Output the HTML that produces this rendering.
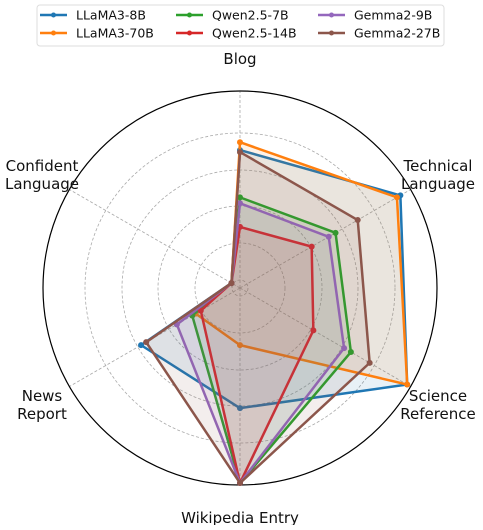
<!DOCTYPE html>
<html><head><meta charset="utf-8"><style>
body{margin:0;background:#fff}
svg text{font-family:"DejaVu Sans","Liberation Sans",sans-serif;fill:#111}
</style></head><body>
<svg id="chart" width="483" height="525" xmlns="http://www.w3.org/2000/svg">
<g id="grid"></g><g id="series"></g><g id="labels"></g>
<g>
<rect x="37" y="5" width="407" height="41" rx="3" fill="#fff" stroke="#ddd"/>
<g id="legend"></g></g>
</svg>
<script>
const categories=["Blog","Technical Language","Science Reference","Wikipedia Entry","News Report","Confident Language"];
const seriesNames=["LLaMA3-8B","LLaMA3-70B","Qwen2.5-7B","Qwen2.5-14B","Gemma2-9B","Gemma2-27B"];
const llama8=[0.70,0.94,0.98,0.61,0.58,0.05];
const llama70=[0.74,0.92,0.98,0.29,0.26,0.05];
const qwen7=[0.46,0.56,0.65,0.99,0.28,0.05];
const qwen14=[0.31,0.42,0.43,0.99,0.23,0.05];
const gemma9=[0.43,0.52,0.61,0.99,0.37,0.05];
const gemma27=[0.69,0.69,0.76,0.99,0.55,0.05];
const seriesValues=[llama8,llama70,qwen7,qwen14,gemma9,gemma27];
const colors=["#1f77b4","#ff7f0e","#2ca02c","#d62728","#9467bd","#8c564b"];
const cx=240,cy=288,R=197;
const NS="http://www.w3.org/2000/svg";
function ang(i){return Math.PI/2-i*2*Math.PI/categories.length;}
function pt(i,v){const r=v*R;return [cx+r*Math.cos(ang(i)),cy-r*Math.sin(ang(i))];}
function mk(t,a,p){const e=document.createElementNS(NS,t);for(const k in a)e.setAttribute(k,a[k]);p.appendChild(e);return e;}
const grid=document.getElementById('grid');
[8,45,82,118,155].forEach(r=>{const c=mk('circle',{cx:cx,cy:cy,r:r,fill:'none',stroke:'#aaa','stroke-dasharray':'3,2','stroke-width':0.8},grid);

});
categories.forEach((c,i)=>{const p=pt(i,1);const l=mk('line',{x1:cx,y1:cy,x2:p[0],y2:p[1],stroke:'#aaa','stroke-dasharray':'3,2','stroke-width':0.8},grid);

});
const oc=mk('circle',{cx:cx,cy:cy,r:R,fill:'none',stroke:'#000','stroke-width':1.2},grid);


const sg=document.getElementById('series');
seriesValues.forEach((vals,s)=>{const g=mk('g',{},sg);


const pts=vals.map((v,i)=>pt(i,v));
mk('polygon',{points:pts.map(p=>p.join(',')).join(' '),fill:colors[s],'fill-opacity':0.1,stroke:colors[s],'stroke-width':2.5,'stroke-linejoin':'round'},g);
pts.forEach(p=>{const c=mk('circle',{cx:p[0],cy:p[1],r:3,fill:colors[s]},g);

});});
const lab=document.getElementById('labels');
const labelPos=[[240,[64]],[438,[171,189]],[438,[401,419]],[240,[523]],[42,[401,419]],[42,[171,189]]];
const labelLines=[["Blog"],["Technical","Language"],["Science","Reference"],["Wikipedia Entry"],["News","Report"],["Confident","Language"]];
labelLines.forEach((ls,i)=>{ls.forEach((t,j)=>{const e=mk('text',{x:labelPos[i][0],y:labelPos[i][1][j],'text-anchor':'middle','font-size':15},lab);e.textContent=t;

});});
const lg=document.getElementById('legend');
const lx=[40,176,318],ly=[15,33];
seriesNames.forEach((n,s)=>{const col=Math.floor(s/2),row=s%2;const g=mk('g',{},lg);


mk('line',{x1:lx[col],y1:ly[row],x2:lx[col]+27,y2:ly[row],stroke:colors[s],'stroke-width':2.5},g);
mk('circle',{cx:lx[col]+13.5,cy:ly[row],r:2.5,fill:colors[s]},g);
const t=mk('text',{x:lx[col]+36,y:ly[row]+4.5,'font-size':12.5},g);t.textContent=n;});
</script>
</body></html>
